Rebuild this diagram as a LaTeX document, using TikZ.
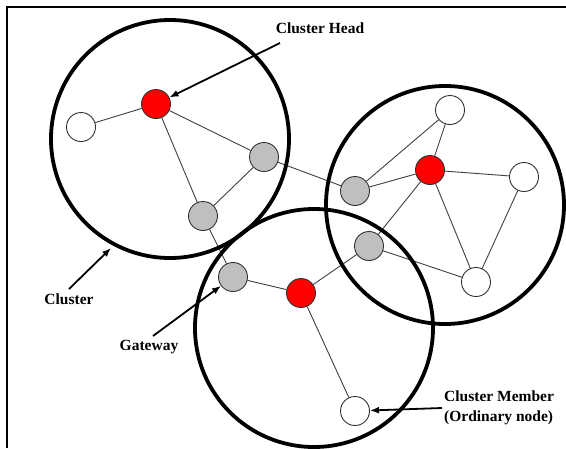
\documentclass[tikz,border=0pt]{standalone}
\usepackage{fontspec}
\setmainfont{Liberation Serif}
\usetikzlibrary{arrows.meta}
\pgfdeclarelayer{edgelayer}
\pgfdeclarelayer{zonelayer}
\pgfsetlayers{edgelayer,zonelayer,main}
\begin{document}
\begin{tikzpicture}[x=1pt,y=-1pt,
  dev/.style={circle,draw=black!80,line width=0.9pt,minimum size=29pt,inner sep=0pt},
  head/.style={dev,fill=red},
  gate/.style={dev,fill=black!25},
  member/.style={dev,fill=white},
  link/.style={draw=black!75,line width=0.9pt},
  zone/.style={circle,draw=black,line width=3.8pt,minimum size=238pt,inner sep=0pt},
  lbl/.style={font=\bfseries\fontsize{15.5}{20}\selectfont,text=black,inner sep=2pt},
  pointer/.style={draw=black,line width=1.8pt,-{Latex[length=9pt,width=7pt]}}]
\useasboundingbox (0,0) rectangle (566,448);
\begin{pgfonlayer}{edgelayer}
\fill[white] (0,0) rectangle (566,448);
\end{pgfonlayer}
\draw[line width=2.4pt] (7,448) -- (7,7) -- (566,7);
% nodes
\node[head]   (ch1) at (156,104) {};
\node[member] (w1)  at (81,127) {};
\node[gate]   (g1)  at (264,157) {};
\node[gate]   (g2)  at (203,216) {};
\node[gate]   (g3)  at (233,277) {};
\node[head]   (ch3) at (301,293) {};
\node[member] (wb)  at (355,411) {};
\node[gate]   (g4)  at (355,191) {};
\node[head]   (ch2) at (430,170) {};
\node[member] (wt)  at (450,110) {};
\node[member] (wr)  at (524,177) {};
\node[gate]   (g5)  at (369,246) {};
\node[member] (wl)  at (476,282) {};
% links
\begin{pgfonlayer}{edgelayer}
\path[link] (w1) -- (ch1) (ch1) -- (g1) (ch1) -- (g2) (g1) -- (g2) (g1) -- (g4)
  (g2) -- (g3) (g3) -- (ch3) (ch3) -- (g5) (ch3) -- (wb) (g4) -- (ch2) (g4) -- (wt)
  (ch2) -- (wt) (ch2) -- (wr) (ch2) -- (g5) (ch2) -- (wl) (wr) -- (wl) (g5) -- (wl);
\end{pgfonlayer}
% clusters
\begin{pgfonlayer}{zonelayer}
\node[zone] (c1) at (170,139) {};
\node[zone] (c2) at (445,205) {};
\node[zone] (c3) at (314,328) {};
\end{pgfonlayer}
% labels
\node[lbl] (lhead) at (320,28) {Cluster Head};
\node[lbl] (lclus) at (69,299) {Cluster};
\node[lbl] (lgate) at (149,347) {Gateway};
\node[lbl,align=left,anchor=west] (lmem) at (442,408) {Cluster Member\\(Ordinary node)};
\coordinate (headtail) at (280,43);
\coordinate (clustip) at (111,248);
\coordinate (clustail) at (69,289);
\coordinate (gatetail) at (153,336);
\draw[pointer] (headtail) -- (ch1);
\draw[pointer] (clustail) -- (clustip);
\draw[pointer] (gatetail) -- (g3);
\draw[pointer] (lmem.west) -- (wb);
\end{tikzpicture}
\end{document}
